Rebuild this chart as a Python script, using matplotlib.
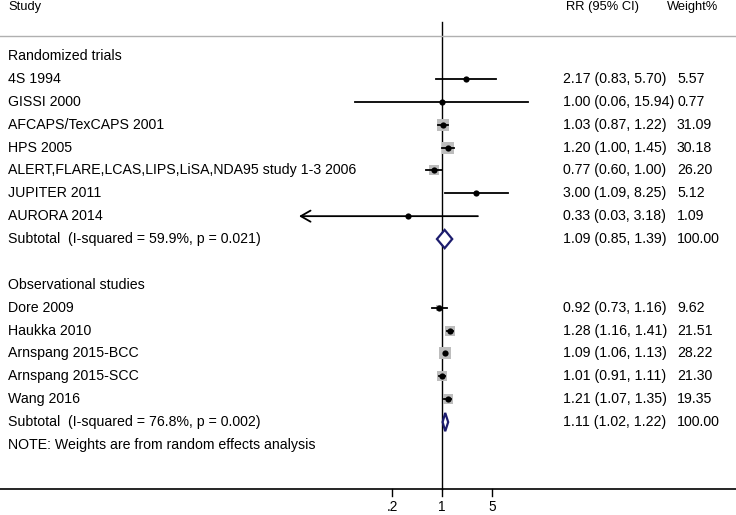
import numpy as np
import matplotlib.pyplot as plt
from matplotlib.patches import Polygon
from matplotlib.transforms import blended_transform_factory

plt.rcParams['font.family'] = ['Liberation Sans', 'DejaVu Sans']

# randomized trials
rct_names = ["4S 1994", "GISSI 2000", "AFCAPS/TexCAPS 2001", "HPS 2005",
             "ALERT,FLARE,LCAS,LIPS,LiSA,NDA95 study 1-3 2006", "JUPITER 2011", "AURORA 2014"]
rct_rr = [2.17, 1.00, 1.03, 1.20, 0.77, 3.00, 0.33]
rct_lo = [0.83, 0.06, 0.87, 1.00, 0.60, 1.09, 0.03]
rct_hi = [5.70, 15.94, 1.22, 1.45, 1.00, 8.25, 3.18]
rct_w = [5.57, 0.77, 31.09, 30.18, 26.20, 5.12, 1.09]
rct_sub = (1.09, 0.85, 1.39)
rct_het = "Subtotal  (I-squared = 59.9%, p = 0.021)"

# observational studies
obs_names = ["Dore 2009", "Haukka 2010", "Arnspang 2015-BCC", "Arnspang 2015-SCC", "Wang 2016"]
obs_rr = [0.92, 1.28, 1.09, 1.01, 1.21]
obs_lo = [0.73, 1.16, 1.06, 0.91, 1.07]
obs_hi = [1.16, 1.41, 1.13, 1.11, 1.35]
obs_w = [9.62, 21.51, 28.22, 21.30, 19.35]
obs_sub = (1.11, 1.02, 1.22)
obs_het = "Subtotal  (I-squared = 76.8%, p = 0.002)"

xticks = [0.2, 1, 5]
xticklabels = [".2", "1", "5"]
clip_lo = 0.05   # lower CI limits below this are cut off with an arrow
arrow_to = 0.01  # where the arrow tip is drawn

W, H = 736, 515
px_dec = 71.5   # pixels per decade on the RR axis
x0 = 442        # pixel position of RR = 1
row0, drow = 56, 22.88

fig = plt.figure(figsize=(W / 100, H / 100), dpi=100)
ax = fig.add_axes([0, 0, 1, 1])
ax.set_xscale('log')
ax.set_xlim(10 ** (-x0 / px_dec), 10 ** ((W - x0) / px_dec))
ax.set_ylim((H - row0) / drow, -row0 / drow)
ax.axis('off')
tr = blended_transform_factory(ax.transAxes, ax.transData)

fs = 10.2
fs_head = 9.3
col_study = 8 / W
col_rr = 563 / W
col_w = 677 / W


def fmt(r, l, h):
    return "%.2f (%.2f, %.2f)" % (r, l, h)


ax.text(col_study, -2.12, "Study", transform=tr, fontsize=fs_head, va='center')
ax.text(566 / W, -2.12, "RR (95% CI)", transform=tr, fontsize=fs_head, va='center')
ax.text(667 / W, -2.12, "Weight%", transform=tr, fontsize=fs_head, va='center')
ax.plot([0, 1], [-0.874, -0.874], transform=tr, color='#b0b0b0', lw=1)


def draw_group(start, title, names, rr, lo, hi, w, sub, het):
    ax.text(col_study, start, title, transform=tr, fontsize=fs, va='center')
    rows = start + 1 + np.arange(len(names))
    for i, y in enumerate(rows):
        side = 2.1 * np.sqrt(w[i]) * 0.72
        ax.scatter(rr[i], y, marker='s', s=side ** 2, color='#bdbdbd', lw=0, zorder=2)
        if lo[i] < clip_lo:
            ax.annotate('', xy=(arrow_to, y), xytext=(hi[i], y),
                        arrowprops=dict(arrowstyle='->,head_length=0.7,head_width=0.4', lw=1.3,
                                        color='black', shrinkA=0, shrinkB=0), zorder=3)
        else:
            ax.plot([lo[i], hi[i]], [y, y], color='black', lw=1.3, zorder=3)
        ax.scatter(rr[i], y, s=20, color='black', zorder=4, lw=0)
        ax.text(col_study, y, names[i], transform=tr, fontsize=fs, va='center')
        ax.text(col_rr, y, fmt(rr[i], lo[i], hi[i]), transform=tr, fontsize=fs, va='center')
        ax.text(col_w, y, "%.2f" % w[i], transform=tr, fontsize=fs, va='center')
    ys = rows[-1] + 1
    r, l, h = sub
    dia = Polygon([(l, ys), (r, ys - 0.4), (h, ys), (r, ys + 0.4)], closed=True,
                  facecolor='white', edgecolor='#1c1c6e', lw=1.6, zorder=4)
    ax.add_patch(dia)
    ax.text(col_study, ys, het, transform=tr, fontsize=fs, va='center')
    ax.text(col_rr, ys, fmt(r, l, h), transform=tr, fontsize=fs, va='center')
    ax.text(col_w, ys, "100.00", transform=tr, fontsize=fs, va='center')
    return rows


# GISSI lower limit 0.06 stays; AURORA (0.03) gets the arrow
draw_group(0, "Randomized trials", rct_names, rct_rr, rct_lo, rct_hi, rct_w, rct_sub, rct_het)
draw_group(10, "Observational studies", obs_names, obs_rr, obs_lo, obs_hi, obs_w, obs_sub, obs_het)

ax.text(col_study, 17, "NOTE: Weights are from random effects analysis", transform=tr,
        fontsize=fs, va='center')

# null line and axis
ax.plot([1, 1], [-1.5, 18.93], color='black', lw=1, zorder=1)
ax.plot([0, 1], [18.93, 18.93], transform=tr, color='black', lw=1.2)
for t, lab in zip(xticks, xticklabels):
    ax.plot([t, t], [18.93, 19.24], color='black', lw=1)
    ax.text(t, 19.7, lab, ha='center', va='center', fontsize=9.8)

fig.savefig('out.png', dpi=100)
